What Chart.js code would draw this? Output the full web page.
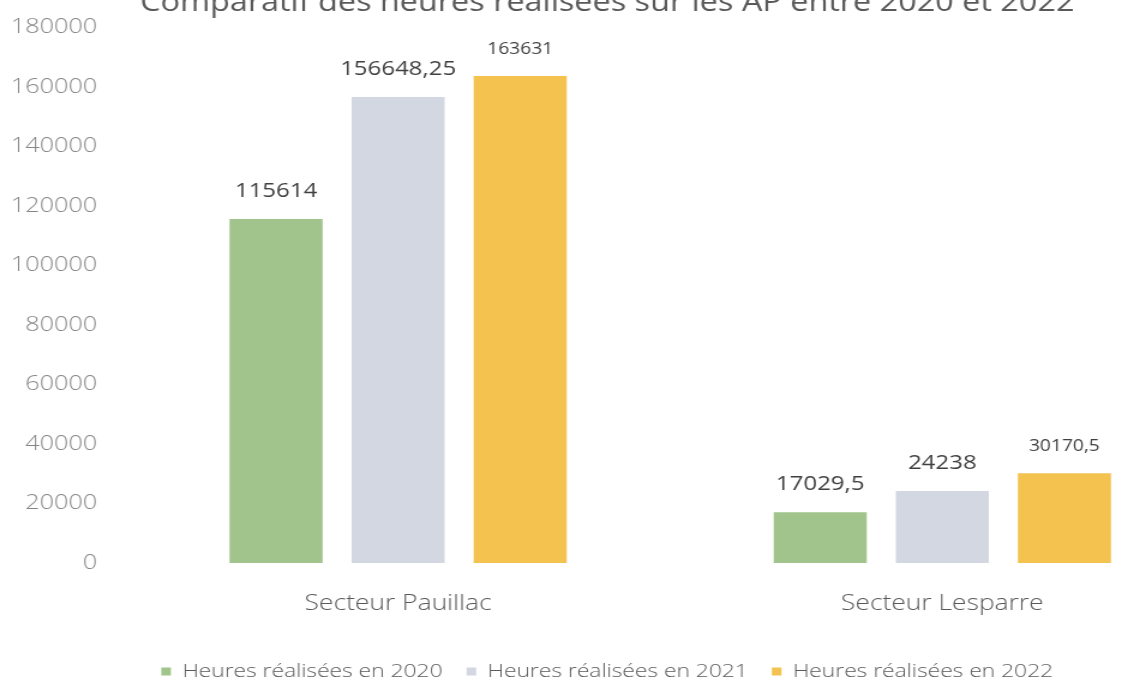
<!DOCTYPE html>
<html>
<head>
<meta charset="utf-8">
<script src="https://cdn.jsdelivr.net/npm/chart.js@4"></script>
<style>
  html, body { margin: 0; padding: 0; background: #fff; overflow: hidden; width: 1122px; height: 690px; }
  /* l'original est étiré horizontalement : on étire le canvas de la même façon */
  #wrap { position: absolute; left: 0; top: -20px; width: 1025px; height: 711px;
          transform: scaleX(1.2); transform-origin: 0 0; }
</style>
</head>
<body>
<div id="wrap"><canvas id="heuresChart"></canvas></div>
<script>
// données
const secteurs = ['Secteur Pauillac', 'Secteur Lesparre'];
const heures2020 = [115614, 17029.5];
const heures2021 = [156648.25, 24238];
const heures2022 = [163631, 30170.5];
const yTicks = [0, 20000, 40000, 60000, 80000, 100000, 120000, 140000, 160000, 180000];

const fontName = '"Open Sans", "Liberation Sans", sans-serif';

// étiquettes de valeur au-dessus des barres
const valueLabels = {
    id: 'valueLabels',
    afterDatasetsDraw(chart) {
        const ctx = chart.ctx;
        ctx.save();
        ctx.fillStyle = '#404040';
        ctx.textAlign = 'center';
        ctx.textBaseline = 'alphabetic';
        chart.data.datasets.forEach((ds, i) => {
            chart.getDatasetMeta(i).data.forEach((bar, j) => {
                ctx.font = (i === 2 ? '16px ' : '20px ') + fontName;
                const txt = String(ds.data[j]).replace('.', ',');
                ctx.fillText(txt, bar.x, bar.y - 22);
            });
        });
        ctx.restore();
    }
};

const ctx = document.getElementById('heuresChart').getContext('2d');
new Chart(ctx, {
    type: 'bar',
    data: {
        labels: secteurs,
        datasets: [
            { label: 'Heures réalisées en 2020', data: heures2020, backgroundColor: '#a0c48b' },
            { label: 'Heures réalisées en 2021', data: heures2021, backgroundColor: '#d3d7e2' },
            { label: 'Heures réalisées en 2022', data: heures2022, backgroundColor: '#f3c24f' }
        ]
    },
    options: {
        animation: false,
        responsive: true,
        maintainAspectRatio: false,
        categoryPercentage: 0.673,
        barPercentage: 0.762,
        layout: { padding: { right: 13, bottom: 0 } },
        plugins: {
            title: {
                display: true,
                text: 'Comparatif des heures réalisées sur les AP entre 2020 et 2022',
                color: '#595959',
                font: { family: fontName, size: 27, weight: 'normal' },
                padding: { top: 7, bottom: 8 }
            },
            legend: {
                position: 'bottom',
                labels: {
                    boxWidth: 8,
                    boxHeight: 8,
                    padding: 20,
                    color: '#595959',
                    font: { family: fontName, size: 19, weight: 300 }
                }
            },
            tooltip: { enabled: false }
        },
        scales: {
            x: {
                afterFit: (scale) => { scale.height = 79; },
                grid: { display: false, drawTicks: false },
                border: { display: false },
                ticks: { color: '#595959', font: { family: fontName, size: 22, weight: 300 }, padding: 28 }
            },
            y: {
                min: 0,
                max: 180000,
                afterBuildTicks: (scale) => { scale.ticks = yTicks.map(v => ({ value: v })); },
                afterFit: (scale) => { scale.width = 105; },
                grid: { display: false, drawTicks: false },
                border: { display: false },
                ticks: {
                    color: '#858585',
                    font: { family: fontName, size: 21, weight: 300 },
                    padding: 24,
                    callback: (v) => String(v)
                }
            }
        }
    },
    plugins: [valueLabels]
});
</script>
</body>
</html>
